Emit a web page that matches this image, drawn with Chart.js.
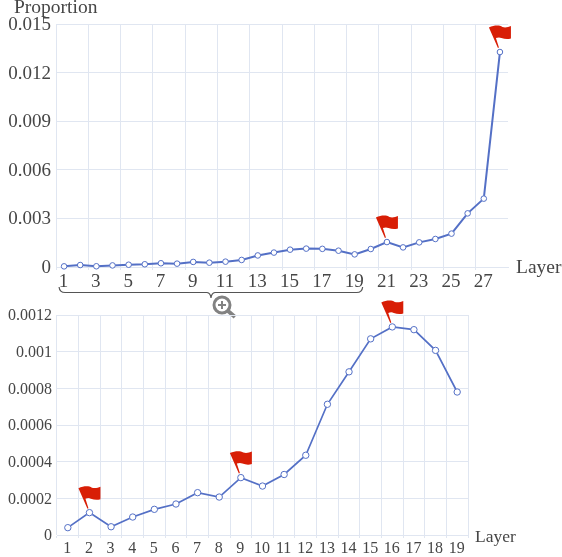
<!DOCTYPE html>
<html>
<head>
<meta charset="utf-8">
<script src="https://cdn.jsdelivr.net/npm/chart.js@4"></script>
<style>
    html, body { margin: 0; padding: 0; background: #fff; }
    #wrap { position: relative; width: 562px; height: 557px; overflow: hidden; }
    canvas { position: absolute; left: 0; }
    #all-layers { top: 0; }
    #zoom-layers { top: 300px; }
</style>
</head>
<body>
<div id="wrap">
    <canvas id="all-layers" width="562" height="330"></canvas>
    <canvas id="zoom-layers" width="562" height="257"></canvas>
</div>
<script>
// Values
const allLabels = ['1', '2', '3', '4', '5', '6', '7', '8', '9', '10', '11', '12', '13', '14',
    '15', '16', '17', '18', '19', '20', '21', '22', '23', '24', '25', '26', '27', '28'];
const allValues = [0.00004, 0.000122, 0.000045, 0.000098, 0.00014, 0.000169, 0.000231, 0.000207,
    0.000313, 0.000267, 0.00033, 0.000435, 0.000713, 0.00089, 0.00107, 0.001135, 0.00112, 0.001007,
    0.00078, 0.00111, 0.00154, 0.00121, 0.00152, 0.00173, 0.00206, 0.00331, 0.00422, 0.01327];
const allFlags = ['21', '28'];

const zoomLabels = ['1', '2', '3', '4', '5', '6', '7', '8', '9', '10', '11', '12', '13', '14',
    '15', '16', '17', '18', '19'];
const zoomValues = [0.00004, 0.000122, 0.000045, 0.000098, 0.00014, 0.000169, 0.000231, 0.000207,
    0.000313, 0.000267, 0.00033, 0.000435, 0.000713, 0.00089, 0.00107, 0.001135, 0.00112, 0.001007,
    0.00078];
const zoomFlags = ['2', '9', '16'];

const FONT = '"Liberation Serif", "Times New Roman", serif';
const TEXT = '#464646';
const GRID = '#e0e6f1';
const LINE = '#5470c6';
const FLAG = '#d81e06';

function drawFlag(ctx, x, y) {
    ctx.save();
    ctx.translate(x - 0.5, y);
    ctx.fillStyle = FLAG;
    ctx.beginPath();
    ctx.moveTo(-1.5, -4);
    ctx.lineTo(-10.5, -24.5);
    ctx.bezierCurveTo(-5, -27, 0, -27, 3, -25);
    ctx.bezierCurveTo(6, -24, 9, -25, 11.5, -26);
    ctx.lineTo(11.5, -13.5);
    ctx.bezierCurveTo(8, -12.5, 5, -13, 2, -14);
    ctx.bezierCurveTo(0, -15, -2, -14.5, -3.5, -14);
    ctx.lineTo(-0.5, -4.5);
    ctx.closePath();
    ctx.fill();
    ctx.restore();
}

// flags plus the axis names, which sit outside the plot area
function overlay(flags, names) {
    return {
        id: 'overlay',
        afterDatasetsDraw(chart) {
            const ctx = chart.ctx;
            const meta = chart.getDatasetMeta(0);
            const labels = chart.data.labels;
            flags.forEach(f => {
                const pt = meta.data[labels.indexOf(f)];
                drawFlag(ctx, pt.x, pt.y);
            });
            ctx.save();
            ctx.fillStyle = TEXT;
            ctx.textBaseline = 'alphabetic';
            ctx.textAlign = 'left';
            names.forEach(n => {
                ctx.font = n.size + 'px ' + FONT;
                ctx.fillText(n.text, n.x, n.y);
            });
            ctx.restore();
        }
    };
}

// brace under layers 1-19 and the magnifier icon
const bracePlugin = {
    id: 'brace',
    afterDraw(chart) {
        const ctx = chart.ctx;
        const xs = chart.scales.x;
        const left = xs.getPixelForValue(0) - 5;
        const right = xs.getPixelForValue(18) + 8;
        const mid = 211;
        ctx.save();
        ctx.strokeStyle = '#555';
        ctx.lineWidth = 1.2;
        ctx.beginPath();
        ctx.moveTo(left, 287);
        ctx.quadraticCurveTo(left + 0.5, 292.5, left + 6, 292.5);
        ctx.lineTo(mid - 4, 292.5);
        ctx.quadraticCurveTo(mid - 0.5, 293, mid, 298);
        ctx.quadraticCurveTo(mid + 0.5, 293, mid + 4, 292.5);
        ctx.lineTo(right - 6, 292.5);
        ctx.quadraticCurveTo(right - 0.5, 292.5, right, 287);
        ctx.stroke();

        ctx.strokeStyle = '#828282';
        ctx.lineWidth = 3;
        ctx.beginPath();
        ctx.arc(222, 305, 8, 0, Math.PI * 2);
        ctx.stroke();
        ctx.lineWidth = 4;
        ctx.beginPath();
        ctx.moveTo(227.5, 310.5);
        ctx.lineTo(235, 317);
        ctx.stroke();
        ctx.lineWidth = 2;
        ctx.beginPath();
        ctx.moveTo(218, 305);
        ctx.lineTo(226, 305);
        ctx.moveTo(222, 301);
        ctx.lineTo(222, 309);
        ctx.stroke();
        ctx.restore();
    }
};

// Create the full 28 layer chart
new Chart(document.getElementById('all-layers').getContext('2d'), {
    type: 'line',
    data: {
        labels: allLabels,
        datasets: [{
            data: allValues,
            borderColor: LINE,
            borderWidth: 2,
            backgroundColor: '#fff',
            pointBackgroundColor: '#fff',
            pointBorderColor: LINE,
            pointBorderWidth: 1,
            pointRadius: 2.8,
            tension: 0,
            clip: false
        }]
    },
    options: {
        responsive: false,
        animation: false,
        layout: { padding: { top: 24, right: 54, bottom: 33 } },
        plugins: { legend: { display: false }, tooltip: { enabled: false } },
        scales: {
            x: {
                offset: true,
                afterFit(s) { s.height = 30; },
                border: { color: GRID },
                grid: {
                    offset: true,
                    tickLength: 3,
                    color: c => (c.index % 2 === 0 ? GRID : 'transparent')
                },
                ticks: {
                    autoSkip: false,
                    maxRotation: 0,
                    padding: 1,
                    labelOffset: -0.5,
                    color: TEXT,
                    font: { family: FONT, size: 19 },
                    callback(v, i) { return i % 2 === 0 ? this.getLabelForValue(v) : ''; }
                }
            },
            y: {
                min: 0,
                max: 0.015,
                afterFit(s) { s.width = 56; },
                border: { display: false },
                grid: { color: GRID, drawTicks: false },
                ticks: {
                    stepSize: 0.003,
                    padding: 5,
                    labelOffset: 1,
                    color: TEXT,
                    font: { family: FONT, size: 19 },
                    callback: v => String(+v.toFixed(4))
                }
            }
        }
    },
    plugins: [overlay(allFlags, [
        { text: 'Proportion', x: 14, y: 13, size: 19.5 },
        { text: 'Layer', x: 516, y: 273, size: 19.5 }
    ]), bracePlugin]
});

// Create the zoomed 19 layer chart
new Chart(document.getElementById('zoom-layers').getContext('2d'), {
    type: 'line',
    data: {
        labels: zoomLabels,
        datasets: [{
            data: zoomValues,
            borderColor: LINE,
            borderWidth: 1.7,
            backgroundColor: '#fff',
            pointBackgroundColor: '#fff',
            pointBorderColor: LINE,
            pointBorderWidth: 1,
            pointRadius: 3.2,
            tension: 0,
            clip: false
        }]
    },
    options: {
        responsive: false,
        animation: false,
        layout: { padding: { top: 15, right: 94, bottom: 0 } },
        plugins: { legend: { display: false }, tooltip: { enabled: false } },
        scales: {
            x: {
                offset: true,
                afterFit(s) { s.height = 22; },
                border: { color: GRID },
                grid: { offset: true, tickLength: 3, color: GRID },
                ticks: {
                    autoSkip: false,
                    maxRotation: 0,
                    padding: 1,
                    labelOffset: -0.5,
                    color: TEXT,
                    font: { family: FONT, size: 16 }
                }
            },
            y: {
                min: 0,
                max: 0.0012,
                afterFit(s) { s.width = 57; },
                border: { display: false },
                grid: { color: GRID, drawTicks: false },
                ticks: {
                    stepSize: 0.0002,
                    padding: 5,
                    labelOffset: 1,
                    color: TEXT,
                    font: { family: FONT, size: 16 },
                    callback: v => String(+v.toFixed(4))
                }
            }
        }
    },
    plugins: [overlay(zoomFlags, [
        { text: 'Layer', x: 475, y: 242, size: 17.5 }
    ])]
});
</script>
</body>
</html>
